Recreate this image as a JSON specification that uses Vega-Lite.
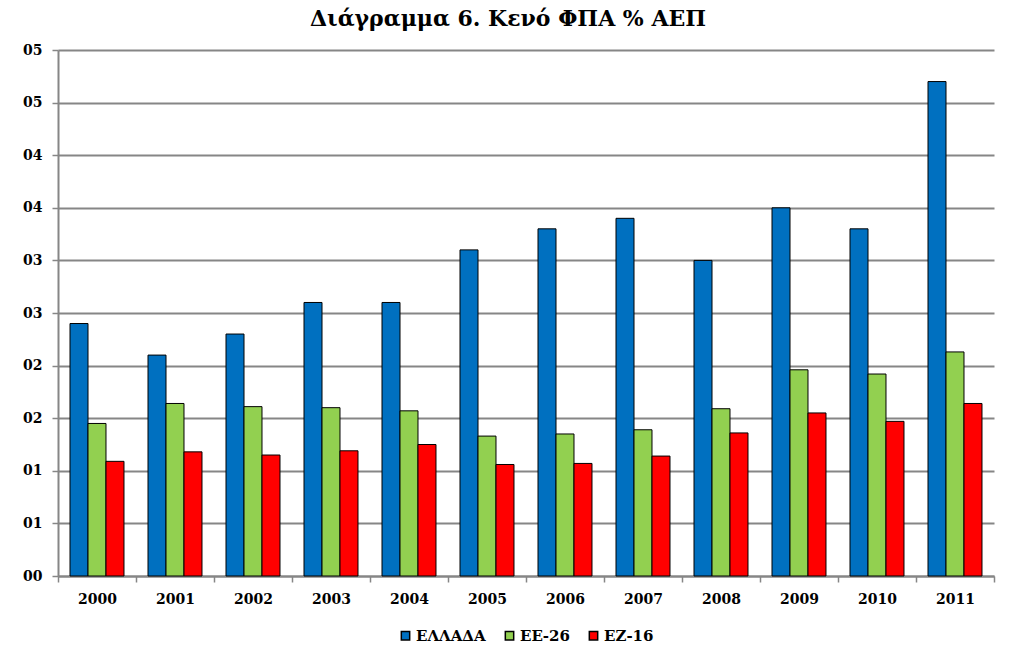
{
  "$schema": "https://vega.github.io/schema/vega-lite/v6.json",
  "width": 936,
  "height": 526,
  "autosize": "none",
  "padding": {"left": 58, "top": 50, "right": 29, "bottom": 83},
  "background": "white",
  "title": {
    "text": "Διάγραμμα 6. Κενό ΦΠΑ % ΑΕΠ",
    "font": "DejaVu Serif",
    "fontSize": 22,
    "fontWeight": "bold",
    "color": "black",
    "anchor": "middle",
    "dx": -18,
    "offset": 12
  },
  "data": {
    "values": [
      {"year": "2000", "series": "ΕΛΛΑΔΑ", "value": 0.240},
      {"year": "2001", "series": "ΕΛΛΑΔΑ", "value": 0.210},
      {"year": "2002", "series": "ΕΛΛΑΔΑ", "value": 0.230},
      {"year": "2003", "series": "ΕΛΛΑΔΑ", "value": 0.260},
      {"year": "2004", "series": "ΕΛΛΑΔΑ", "value": 0.260},
      {"year": "2005", "series": "ΕΛΛΑΔΑ", "value": 0.310},
      {"year": "2006", "series": "ΕΛΛΑΔΑ", "value": 0.330},
      {"year": "2007", "series": "ΕΛΛΑΔΑ", "value": 0.340},
      {"year": "2008", "series": "ΕΛΛΑΔΑ", "value": 0.300},
      {"year": "2009", "series": "ΕΛΛΑΔΑ", "value": 0.350},
      {"year": "2010", "series": "ΕΛΛΑΔΑ", "value": 0.330},
      {"year": "2011", "series": "ΕΛΛΑΔΑ", "value": 0.470},
      {"year": "2000", "series": "ΕΕ-26", "value": 0.145},
      {"year": "2001", "series": "ΕΕ-26", "value": 0.164},
      {"year": "2002", "series": "ΕΕ-26", "value": 0.161},
      {"year": "2003", "series": "ΕΕ-26", "value": 0.160},
      {"year": "2004", "series": "ΕΕ-26", "value": 0.157},
      {"year": "2005", "series": "ΕΕ-26", "value": 0.133},
      {"year": "2006", "series": "ΕΕ-26", "value": 0.135},
      {"year": "2007", "series": "ΕΕ-26", "value": 0.139},
      {"year": "2008", "series": "ΕΕ-26", "value": 0.159},
      {"year": "2009", "series": "ΕΕ-26", "value": 0.196},
      {"year": "2010", "series": "ΕΕ-26", "value": 0.192},
      {"year": "2011", "series": "ΕΕ-26", "value": 0.213},
      {"year": "2000", "series": "ΕΖ-16", "value": 0.109},
      {"year": "2001", "series": "ΕΖ-16", "value": 0.118},
      {"year": "2002", "series": "ΕΖ-16", "value": 0.115},
      {"year": "2003", "series": "ΕΖ-16", "value": 0.119},
      {"year": "2004", "series": "ΕΖ-16", "value": 0.125},
      {"year": "2005", "series": "ΕΖ-16", "value": 0.106},
      {"year": "2006", "series": "ΕΖ-16", "value": 0.107},
      {"year": "2007", "series": "ΕΖ-16", "value": 0.114},
      {"year": "2008", "series": "ΕΖ-16", "value": 0.136},
      {"year": "2009", "series": "ΕΖ-16", "value": 0.155},
      {"year": "2010", "series": "ΕΖ-16", "value": 0.147},
      {"year": "2011", "series": "ΕΖ-16", "value": 0.164}
    ]
  },
  "mark": {"type": "bar", "stroke": "black", "strokeWidth": 1},
  "encoding": {
    "x": {
      "field": "year",
      "type": "ordinal",
      "title": null,
      "scale": {"paddingInner": 0, "paddingOuter": 0},
      "axis": {
        "labelAngle": 0,
        "labelFont": "DejaVu Serif",
        "labelFontSize": 14,
        "labelFontWeight": "bold",
        "labelColor": "black",
        "labelPadding": 10,
        "domainColor": "#868686",
        "domainWidth": 2,
        "tickColor": "#868686",
        "tickWidth": 1.5,
        "tickSize": 6,
        "tickBand": "extent"
      }
    },
    "xOffset": {
      "field": "series",
      "type": "nominal",
      "sort": ["ΕΛΛΑΔΑ", "ΕΕ-26", "ΕΖ-16"],
      "scale": {"paddingInner": 0, "paddingOuter": 0.667}
    },
    "y": {
      "field": "value",
      "type": "quantitative",
      "title": null,
      "scale": {"domain": [0, 0.5], "nice": false},
      "axis": {
        "values": [0, 0.05, 0.1, 0.15, 0.2, 0.25, 0.3, 0.35, 0.4, 0.45, 0.5],
        "labelExpr": "'0' + round(datum.value * 10 + 0.001)",
        "labelFont": "DejaVu Serif",
        "labelFontSize": 14,
        "labelFontWeight": "bold",
        "labelColor": "black",
        "labelPadding": 10,
        "grid": true,
        "gridColor": "#868686",
        "gridWidth": 2,
        "domainColor": "#868686",
        "domainWidth": 2,
        "tickColor": "#868686",
        "tickWidth": 1.5,
        "tickSize": 6
      }
    },
    "color": {
      "field": "series",
      "type": "nominal",
      "sort": ["ΕΛΛΑΔΑ", "ΕΕ-26", "ΕΖ-16"],
      "scale": {
        "domain": ["ΕΛΛΑΔΑ", "ΕΕ-26", "ΕΖ-16"],
        "range": ["#0070C0", "#92D050", "#FF0000"]
      },
      "legend": {
        "title": null,
        "orient": "bottom",
        "direction": "horizontal",
        "offset": 22,
        "symbolType": "square",
        "symbolSize": 70,
        "labelFont": "DejaVu Serif",
        "labelFontSize": 15,
        "labelFontWeight": "bold",
        "labelColor": "black",
        "labelOffset": 3,
        "columnPadding": 16,
        "encode": {
          "symbols": {"update": {"stroke": {"value": "black"}, "strokeWidth": {"value": 1}}}
        }
      }
    }
  },
  "config": {
    "view": {"stroke": null},
    "legend": {"layout": {"bottom": {"anchor": "middle"}}}
  }
}
